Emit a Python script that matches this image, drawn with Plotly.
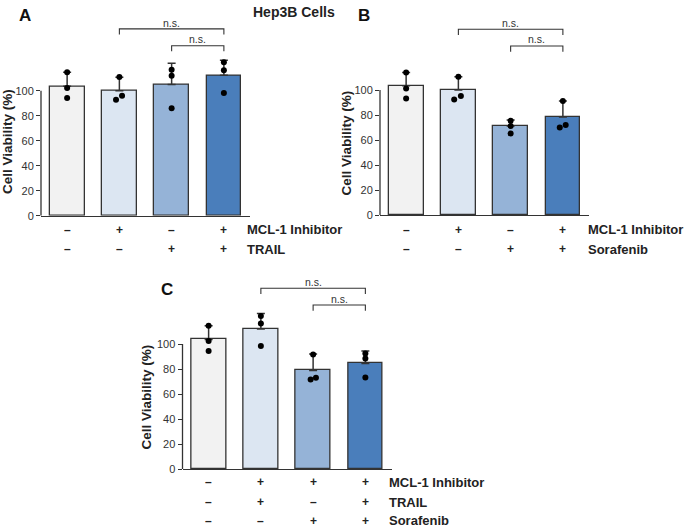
import plotly.graph_objects as go

# ---------------- data ----------------
conditions = [0, 1, 2, 3]
bar_colors = ["#f2f2f2", "#dce6f2", "#95b3d7", "#4a7ebb"]

a_means = [103.5, 100.0, 104.9, 112.3]
a_err = [11.2, 10.8, 17.1, 12.0]
a_points = [[114.7, 102.1, 94.1], [92.8, 96.0, 110.9], [116.8, 112.0, 86.0], [122.7, 116.3, 98.1]]

b_means = [103.5, 100.0, 71.2, 78.4]
b_err = [10.6, 10.7, 4.8, 12.8]
b_points = [[114.1, 101.3, 93.3], [92.5, 95.2, 110.7], [75.5, 71.2, 65.3], [70.1, 72.0, 91.2]]

c_means = [103.7, 112.0, 78.9, 84.5]
c_err = [11.0, 12.5, 13.1, 9.9]
c_points = [[114.7, 102.4, 94.4], [122.4, 116.5, 98.4], [71.7, 73.0, 91.7], [92.5, 88.5, 73.3]]

a_rows = {"MCL-1 Inhibitor": ["–", "+", "–", "+"], "TRAIL": ["–", "–", "+", "+"]}
b_rows = {"MCL-1 Inhibitor": ["–", "+", "–", "+"], "Sorafenib": ["–", "–", "+", "+"]}
c_rows = {"MCL-1 Inhibitor": ["–", "+", "+", "+"], "TRAIL": ["–", "+", "–", "+"],
          "Sorafenib": ["–", "–", "+", "+"]}

y_ticks = [0, 20, 40, 60, 80, 100]

# point jitter (category units), styling only
a_jit = [[0, 0, 0], [-0.064, 0.051, 0], [0, 0, 0], [0, 0, 0]]
b_jit = [[0, 0, 0], [-0.08, 0.048, 0], [0, 0, 0], [-0.06, 0.054, 0]]
c_jit = [[0, 0, 0], [0, 0, 0], [-0.048, 0.054, 0], [0, 0, 0]]

W, H = 685, 528
FONT = "Liberation Sans, Arial, sans-serif"
DARK = "#333333"

fig = go.Figure()
panels = [
    dict(m=a_means, e=a_err, p=a_points, j=a_jit, rows=a_rows, ax="", x0=41, x1=250, yb=215.7,
         br=[(1, 3, 149.5, 145), (2, 3, 136, 131.5)], nsy=[154.5, 141.2], rowy=[230, 249], lx=245,
         letter="A", let_xy=(25, 15), title_xy=(7, 142)),
    dict(m=b_means, e=b_err, p=b_points, j=b_jit, rows=b_rows, ax="2", x0=380, x1=589, yb=215.0,
         br=[(1, 3, 148.6, 144), (2, 3, 135.2, 130.6)], nsy=[154.0, 140.5], rowy=[230, 249], lx=586,
         letter="B", let_xy=(364, 15), title_xy=(346.5, 143)),
    dict(m=c_means, e=c_err, p=c_points, j=c_jit, rows=c_rows, ax="3", x0=182.5, x1=391.5, yb=469.0,
         br=[(1, 3, 144.6, 140), (2, 3, 131.2, 126.6)], nsy=[149.5, 136.2], rowy=[482.3, 502.3, 520.7], lx=387,
         letter="C", let_xy=(167, 289), title_xy=(146, 397.5)),
]

YMAX = 160
shapes = []
annotations = []


def ann(**kw):
    kw.setdefault("xanchor", "center")
    kw.setdefault("yanchor", "middle")
    kw.setdefault("showarrow", False)
    annotations.append(kw)


for pn in panels:
    xa = "x" + pn["ax"]
    ya = "y" + pn["ax"]
    fig.add_trace(go.Bar(
        x=conditions, y=pn["m"], width=0.665, xaxis=xa, yaxis=ya,
        marker=dict(color=bar_colors, line=dict(color=DARK, width=1.3)),
        error_y=dict(type="data", symmetric=False, array=pn["e"], arrayminus=[0] * 4,
                     color=DARK, thickness=1.5, width=4),
        showlegend=False, hoverinfo="skip",
    ))
    px, py = [], []
    for i, vals in enumerate(pn["p"]):
        for k, v in enumerate(vals):
            px.append(conditions[i] + pn["j"][i][k])
            py.append(v)
    fig.add_trace(go.Scatter(x=px, y=py, mode="markers", xaxis=xa, yaxis=ya,
                             marker=dict(color="black", size=6), showlegend=False,
                             hoverinfo="skip", cliponaxis=False))
    ytop = pn["yb"] - YMAX * 1.25
    lay_x = dict(domain=[pn["x0"] / W, pn["x1"] / W], range=[-0.5, 3.5], showline=True,
                 linecolor=DARK, linewidth=1.3, showticklabels=False, ticks="",
                 showgrid=False, zeroline=False, anchor=ya, automargin=False)
    lay_y = dict(domain=[1 - pn["yb"] / H, 1 - ytop / H], range=[0, YMAX], tickvals=y_ticks,
                 ticks="outside", ticklen=4, tickcolor=DARK, tickwidth=1.3, showline=False,
                 showgrid=False, zeroline=False, anchor=xa, automargin=False,
                 tickfont=dict(family=FONT, size=11, color=DARK))
    fig.update_layout(**{"xaxis" + pn["ax"]: lay_x, "yaxis" + pn["ax"]: lay_y})
    shapes.append(dict(type="line", xref=xa + " domain", yref=ya, x0=0, x1=0, y0=0, y1=100,
                       line=dict(color=DARK, width=1.3)))
    for (xs, xe, yh, yl), nsy in zip(pn["br"], pn["nsy"]):
        shapes.append(dict(type="path", xref=xa, yref=ya,
                           path=f"M {xs},{yl} L {xs},{yh} L {xe},{yh} L {xe},{yl}",
                           line=dict(color=DARK, width=1.1)))
        ann(x=(xs + xe) / 2, y=nsy, xref=xa, yref=ya, text="n.s.",
            font=dict(family=FONT, size=10.5, color=DARK))
    for (name, syms), ry in zip(pn["rows"].items(), pn["rowy"]):
        for i, s in enumerate(syms):
            ann(x=conditions[i], y=1 - ry / H, xref=xa, yref="paper", text=f"<b>{s}</b>",
                font=dict(family=FONT, size=12, color="#222"))
        ann(x=pn["lx"] / W, y=1 - ry / H, xref="paper", yref="paper", xanchor="left",
            text=f"<b>{name}</b>", font=dict(family=FONT, size=13, color="#222"))
    ann(x=pn["let_xy"][0] / W, y=1 - pn["let_xy"][1] / H, xref="paper", yref="paper",
        text=f"<b>{pn['letter']}</b>", font=dict(family=FONT, size=17, color="#111"))
    ann(x=pn["title_xy"][0] / W, y=1 - pn["title_xy"][1] / H, xref="paper", yref="paper",
        text="<b>Cell Viability (%)</b>", textangle=-90,
        font=dict(family=FONT, size=13.5, color="#222"))

ann(x=294 / W, y=1 - 12 / H, xref="paper", yref="paper", text="<b>Hep3B Cells</b>",
    font=dict(family=FONT, size=14, color="#222"))

fig.update_layout(width=W, height=H, margin=dict(l=0, r=0, t=0, b=0),
                  paper_bgcolor="white", plot_bgcolor="white",
                  shapes=shapes, annotations=annotations, bargap=0)
fig.write_html("out.html", config={"displayModeBar": False},
               post_script="document.body.style.margin='0';document.body.style.overflow='hidden';")
